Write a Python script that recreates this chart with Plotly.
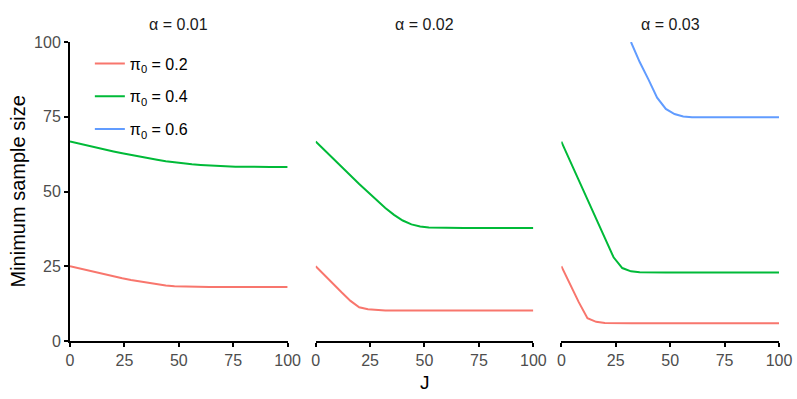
import plotly.graph_objects as go
from plotly.subplots import make_subplots

J = list(range(0, 101, 4))

alphas = ["0.01", "0.02", "0.03"]
pi0s = ["0.2", "0.4", "0.6"]
colors = ["#F8766D", "#00BA38", "#619CFF"]

# alpha = 0.01
a1_pi02 = [25.0, 24.3, 23.6, 22.9, 22.3, 21.6, 21.0, 20.4, 19.9, 19.4, 19.0, 18.6, 18.3,
           18.2, 18.1, 18.1, 18.1, 18.1, 18.1, 18.1, 18.1, 18.1, 18.1, 18.1, 18.1, 18.1]
a1_pi04 = [66.7, 66.0, 65.3, 64.6, 64.0, 63.4, 62.8, 62.2, 61.6, 61.1, 60.6, 60.1, 59.7,
           59.4, 59.1, 58.9, 58.7, 58.5, 58.4, 58.3, 58.3, 58.2, 58.2, 58.2, 58.2, 58.2]
a1_pi06 = [None] * 26

# alpha = 0.02
a2_pi02 = [25.0, 22.0, 19.1, 16.2, 13.4, 11.3, 10.6, 10.3, 10.2, 10.2, 10.2, 10.2, 10.2,
           10.2, 10.2, 10.2, 10.2, 10.2, 10.2, 10.2, 10.2, 10.2, 10.2, 10.2, 10.2, 10.2]
a2_pi04 = [66.7, 63.8, 61.0, 58.1, 55.3, 52.5, 49.8, 47.1, 44.5, 42.2, 40.3, 39.0, 38.3,
           38.0, 37.9, 37.8, 37.8, 37.8, 37.8, 37.8, 37.8, 37.8, 37.8, 37.8, 37.8, 37.8]
a2_pi06 = [None] * 26

# alpha = 0.03
a3_pi02 = [25.0, 19.0, 13.0, 7.6, 6.4, 6.0, 5.9, 5.9, 5.9, 5.9, 5.9, 5.9, 5.9,
           5.9, 5.9, 5.9, 5.9, 5.9, 5.9, 5.9, 5.9, 5.9, 5.9, 5.9, 5.9, 5.9]
a3_pi04 = [66.7, 60.3, 53.8, 47.4, 40.9, 34.5, 28.0, 24.4, 23.3, 23.0, 22.9, 22.9, 22.9,
           22.9, 22.9, 22.9, 22.9, 22.9, 22.9, 22.9, 22.9, 22.9, 22.9, 22.9, 22.9, 22.9]
a3_pi06 = [None, None, None, None, None, None, None, None, 100.0, 93.3, 87.5, 81.4, 77.6,
           75.9, 75.1, 74.8, 74.8, 74.8, 74.8, 74.8, 74.8, 74.8, 74.8, 74.8, 74.8, 74.8]

panels = [
    [a1_pi02, a1_pi04, a1_pi06],
    [a2_pi02, a2_pi04, a2_pi06],
    [a3_pi02, a3_pi04, a3_pi06],
]

font = "Liberation Sans, Arial, sans-serif"

fig = make_subplots(rows=1, cols=3, shared_yaxes=True, horizontal_spacing=0.0395)

for p, series in enumerate(panels):
    for k, ys in enumerate(series):
        fig.add_trace(
            go.Scatter(
                x=J,
                y=ys,
                mode="lines",
                line=dict(color=colors[k], width=2),
                name=f"π<sub>0</sub> = {pi0s[k]}",
                legendgroup=pi0s[k],
                showlegend=(p == 0),
                connectgaps=False,
            ),
            row=1,
            col=p + 1,
        )

# facet strip labels
for p in range(3):
    xa = "x" if p == 0 else f"x{p + 1}"
    fig.add_annotation(
        text=f"α = {alphas[p]}",
        xref=f"{xa} domain", yref="paper",
        x=0.5, y=1, yanchor="bottom", yshift=7,
        showarrow=False,
        font=dict(family=font, size=16, color="#1a1a1a"),
    )

fig.add_annotation(
    text="J", xref="paper", yref="paper", x=0.5, y=0, yanchor="top", yshift=-29,
    showarrow=False, font=dict(family=font, size=19, color="black"),
)
fig.add_annotation(
    text="Minimum sample size", xref="paper", yref="paper", x=0, y=0.5,
    xanchor="right", xshift=-40, textangle=-90,
    showarrow=False, font=dict(family=font, size=20, color="black"),
)

fig.update_xaxes(
    range=[0, 100],
    tickvals=[0, 25, 50, 75, 100],
    showgrid=False,
    zeroline=False,
    showline=True,
    linecolor="black",
    linewidth=2,
    ticks="outside",
    ticklen=4,
    tickwidth=2,
    tickcolor="black",
    tickfont=dict(family=font, size=16, color="#4d4d4d"),
    automargin=False,
)
fig.update_yaxes(
    range=[0, 100],
    tickvals=[0, 25, 50, 75, 100],
    showgrid=False,
    zeroline=False,
    automargin=False,
)
fig.update_yaxes(
    showline=True,
    linecolor="black",
    linewidth=2,
    ticks="outside",
    ticklen=4,
    tickwidth=2,
    tickcolor="black",
    tickfont=dict(family=font, size=16, color="#4d4d4d"),
    row=1, col=1,
)
fig.update_yaxes(showticklabels=False, showline=False, ticks="", row=1, col=2)
fig.update_yaxes(showticklabels=False, showline=False, ticks="", row=1, col=3)

fig.update_layout(
    width=797,
    height=399,
    margin=dict(l=70, r=18, t=42, b=58),
    plot_bgcolor="white",
    paper_bgcolor="white",
    font=dict(family=font, size=16, color="black"),
    legend=dict(
        x=0.028, y=0.985, xanchor="left", yanchor="top",
        bgcolor="rgba(0,0,0,0)",
        font=dict(family=font, size=16, color="black"),
        tracegroupgap=9,
        itemwidth=30,
    ),
)

fig.write_html(
    "out.html",
    config={"displayModeBar": False},
    post_script="document.body.style.margin='0';",
)
